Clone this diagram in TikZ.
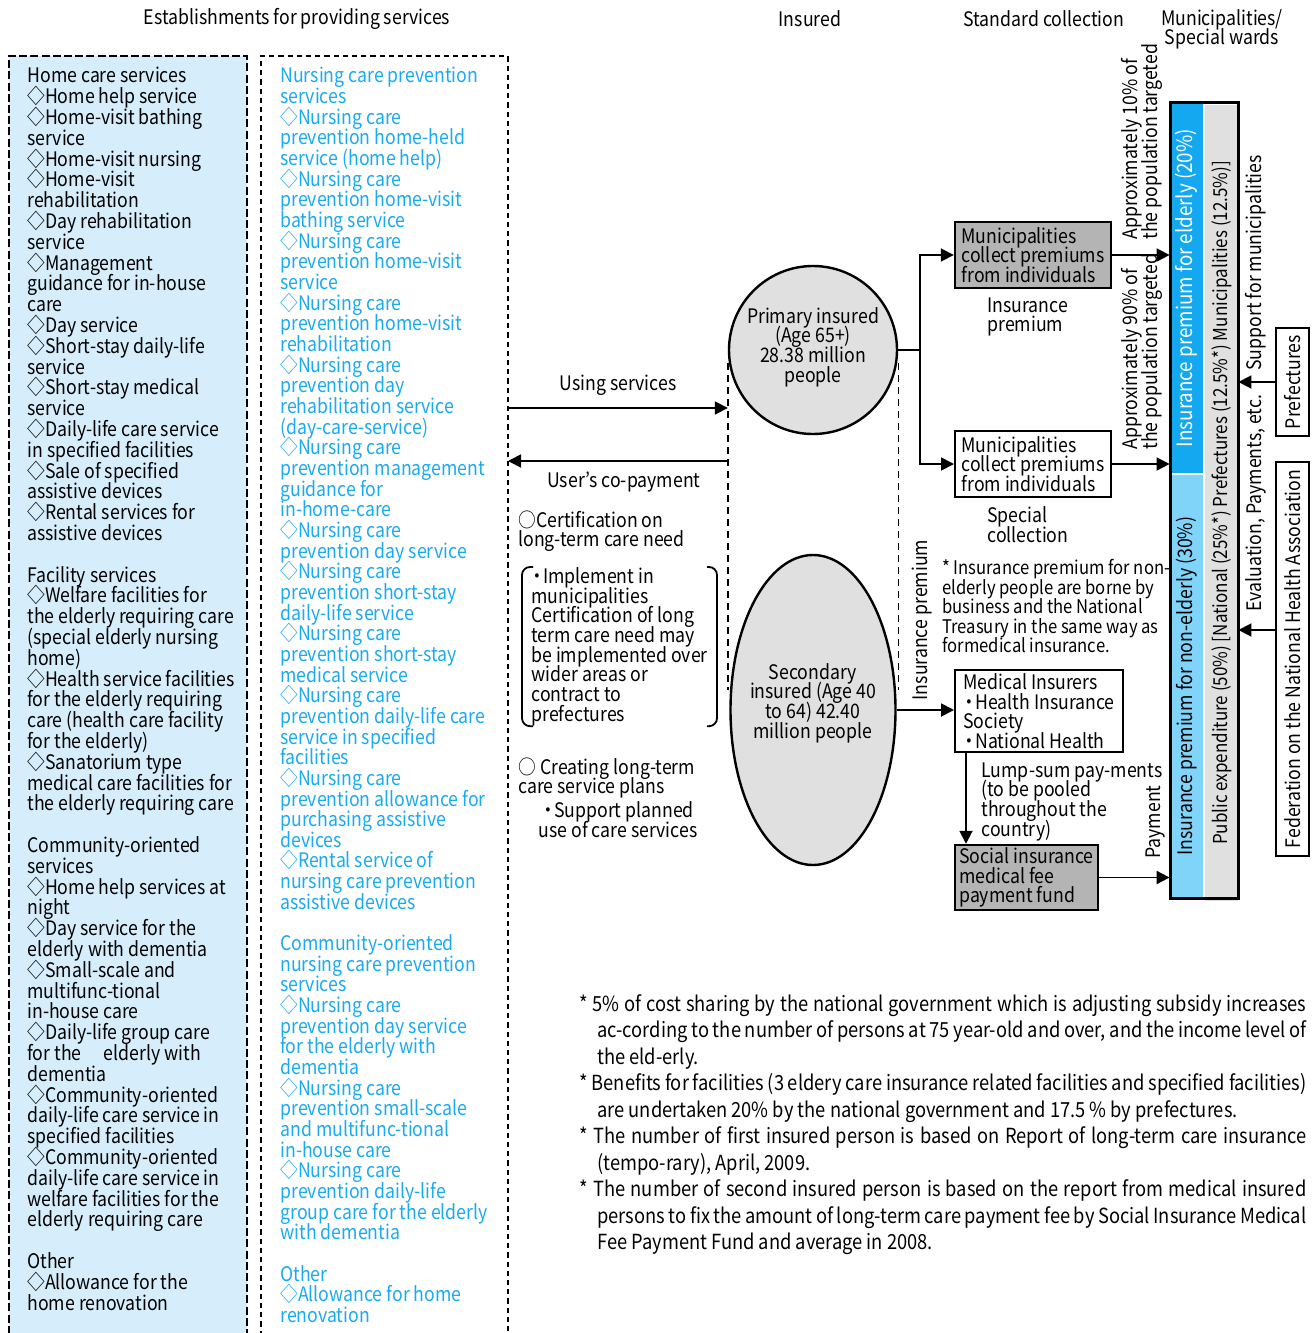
\documentclass[tikz,border=0pt]{standalone}
\usepackage{fontspec}
\setmainfont[FakeStretch=0.885]{Noto Sans CJK JP}
\newfontfamily\condfont[FakeStretch=0.88]{Noto Sans CJK JP}
\usetikzlibrary{shapes.geometric, arrows.meta, positioning, calc}

\definecolor{paleblue}{RGB}{214, 238, 252}
\definecolor{textblue}{RGB}{25, 170, 240}
\definecolor{barblue}{RGB}{20, 168, 240}
\definecolor{barlight}{RGB}{128, 212, 250}
\definecolor{bargray}{RGB}{224, 224, 224}
\definecolor{boxgray}{RGB}{180, 180, 180}
\definecolor{ovalgray}{RGB}{224, 224, 224}

\lineskiplimit=-100pt
\newcommand\bul{\makebox[6pt]{・}}
\newcommand\fullline[1]{\makebox[363.5pt][s]{#1}}
\newcommand\hangline[1]{\hspace*{9pt}\makebox[354.5pt][s]{#1}}
\newcommand\hanglast[1]{\hspace*{9pt}#1}

\begin{document}
\begin{tikzpicture}[x=0.5pt, y=-0.5pt,
  txt/.style={inner sep=0pt, font=\fontsize{10}{10.4}\selectfont},
  txtb/.style={inner sep=0pt, align=left, font=\fontsize{10}{9.85}\selectfont},
  arr/.style={line width=0.9pt, -{Triangle[length=6.5pt, width=6.5pt]}},
  plain/.style={line width=0.9pt},
  tiedash/.style={line width=0.7pt, dash pattern=on 3.5pt off 2.5pt},
  collbox/.style={draw, line width=1pt, align=left, minimum width=78pt, inner sep=0pt,
    minimum height=33pt, font=\fontsize{10}{9.75}\selectfont},
  vbar/.style={rotate=90, inner sep=0pt, minimum height=16.5pt, font=\fontsize{10}{10}\selectfont},
  vbox/.style={draw, line width=1pt, rotate=90, inner sep=0pt, minimum height=16.5pt,
    fill=white, font=\fontsize{10}{10}\selectfont},
  sidetext/.style={rotate=90, inner sep=0pt, font=\fontsize{10}{10}\selectfont}]
  \useasboundingbox (0,0) rectangle (1316,1333);

  % headings
  \node[txt] (hdsvc) at (297,19) {Establishments for providing services};
  \node[txt] (hdins) at (810,19) {Insured};
  \node[txt] (hdcol) at (1044,19) {Standard collection};
  \node[txt, align=center, font=\fontsize{10}{9.5}\selectfont] (hdmun) at (1222,29) {Municipalities/\\Special wards};

  % service columns
  \fill[paleblue] (9,56) rectangle (247,1345);
  \draw[line width=1.3pt, dash pattern=on 4pt off 1.6pt] (9,1345) -- (9,56) -- (247,56) -- (247,1345);
  \draw[line width=1pt, dash pattern=on 2.6pt off 2pt] (261,1345) -- (261,56) -- (508,56) -- (508,1345);

  \node[txt, anchor=north west, align=left] (homesvc) at (27,67) {Home care services\\
    ◇Home help service\\◇Home-visit bathing\\service\\◇Home-visit nursing\\◇Home-visit\\rehabilitation\\
    ◇Day rehabilitation\\service\\◇Management\\guidance for in-house\\care\\◇Day service\\
    ◇Short-stay daily-life\\service\\◇Short-stay medical\\service\\◇Daily-life care service\\
    in specified facilities\\◇Sale of specified\\assistive devices\\◇Rental services for\\
    assistive devices\\[10.4pt]
    Facility services\\◇Welfare facilities for\\the elderly requiring care\\(special elderly nursing\\
    home)\\◇Health service facilities\\for the elderly requiring\\care (health care facility\\
    for the elderly)\\◇Sanatorium type\\medical care facilities for\\the elderly requiring care\\[10.4pt]
    Community-oriented\\services\\◇Home help services at\\night\\◇Day service for the\\
    elderly with dementia\\◇Small-scale and\\multifunc-tional\\in-house care\\
    ◇Daily-life group care\\for the \hspace{7pt} elderly with\\dementia\\◇Community-oriented\\
    daily-life care service in\\specified facilities\\◇Community-oriented\\
    daily-life care service in\\welfare facilities for the\\elderly requiring care\\[10.4pt]
    Other\\◇Allowance for the\\home renovation};

  \node[txt, anchor=north west, align=left, text=textblue, font=\fontsize{10}{10.33}\selectfont] (prevsvc) at (280,67) {Nursing care prevention\\
    services\\◇Nursing care\\prevention home-held\\service (home help)\\◇Nursing care\\
    prevention home-visit\\bathing service\\◇Nursing care\\prevention home-visit\\service\\
    ◇Nursing care\\prevention home-visit\\rehabilitation\\◇Nursing care\\prevention day\\
    rehabilitation service\\(day-care-service)\\◇Nursing care\\prevention management\\
    guidance for\\in-home-care\\◇Nursing care\\prevention day service\\◇Nursing care\\
    prevention short-stay\\daily-life service\\◇Nursing care\\prevention short-stay\\
    medical service\\◇Nursing care\\prevention daily-life care\\service in specified\\facilities\\
    ◇Nursing care\\prevention allowance for\\purchasing assistive\\devices\\◇Rental service of\\
    nursing care prevention\\assistive devices\\[10.33pt]
    Community-oriented\\nursing care prevention\\services\\◇Nursing care\\
    prevention day service\\for the elderly with\\dementia\\◇Nursing care\\
    prevention small-scale\\and multifunc-tional\\in-house care\\◇Nursing care\\
    prevention daily-life\\group care for the elderly\\with dementia\\[10.33pt]
    Other\\◇Allowance for home\\renovation};

  % insured
  \node[circle, draw, line width=1.2pt, fill=ovalgray, minimum size=84pt, inner sep=0pt] (prim) at (813,350) {};
  \node[txtb, align=center] (primlbl) at (813,347) {Primary insured\\(Age 65+)\\28.38 million\\people};
  \node[ellipse, draw, line width=1.2pt, fill=ovalgray, minimum width=82.5pt, minimum height=155pt,
    inner sep=0pt] (sec) at (813,710) {};
  \node[txtb, align=center] (seclbl) at (813,703) {Secondary\\insured (Age 40\\to 64) 42.40\\million people};
  \draw[tiedash] ([yshift=-6.5pt]prim.west) -- ([yshift=10pt]prim.west |- sec.west);
  \draw[tiedash] ([yshift=-6.5pt]prim.east) -- ([yshift=10pt]prim.east |- sec.east);

  % use of services
  \coordinate (useL) at (508,408);
  \draw[arr] (useL) -- (useL -| prim.west) node[txt, midway, above=6pt] (uselbl) {Using services};
  \draw[arr] (prim.west |- 0,461) -- (useL |- 0,461) node[txt, midway, below=5pt, xshift=3pt] (copaylbl) {User's co-payment};

  \node[txtb, anchor=north west] (certon) at (518,510) {○Certification on\\long-term care need};
  \node[txtb, anchor=north west] (certnote) at (531,567) {\bul Implement in\\municipalities\\
    Certification of long\\term care need may\\be implemented over\\wider areas or\\contract to\\prefectures};
  \draw[plain, rounded corners=4pt] ([xshift=1pt]certnote.north west) -- ([xshift=-4.5pt]certnote.north west)
    -- ([xshift=-4.5pt]certnote.south west) -- ([xshift=1pt]certnote.south west);
  \draw[plain, rounded corners=4pt] ([xshift=88pt]certnote.north west) -- ([xshift=93pt]certnote.north west)
    -- ([xshift=93pt]certnote.south west) -- ([xshift=88pt]certnote.south west);
  \node[txtb, anchor=north west] (plans) at (518,757) {○ Creating long-term\\care service plans};
  \node[txtb, align=center, anchor=north] (support) at (618,801) {\bul Support planned\\use of care services};

  % standard collection
  \coordinate (split) at (prim.east -| 920,0);
  \node[collbox, fill=boxgray, line width=1.2pt] (mcol1) at (1033,255) {Municipalities\\collect premiums\\from individuals};
  \node[collbox, fill=white] (mcol2) at (1033,464) {Municipalities\\collect premiums\\from individuals};
  \node[txtb, anchor=north west] (premlbl) at (987,297) {Insurance\\premium};
  \node[txtb, anchor=north west] (speclbl) at (987,506) {Special\\collection};
  \node[txtb, anchor=north west, font=\fontsize{9.4}{9.75}\selectfont] (nonote) at (942,559)
    {* Insurance premium for non-\\elderly people are borne by\\business and the National\\
    Treasury in the same way as\\formedical insurance.};
  \node[draw, line width=1pt, fill=white, align=left, minimum width=84pt, inner sep=0pt, minimum height=41pt,
    font=\fontsize{10}{9.75}\selectfont] (medins) at (1039,711)
    {Medical Insurers\\\bul Health Insurance\\Society\\\bul National Health};
  \node[draw, line width=1.2pt, fill=boxgray, align=left, minimum width=71.5pt, inner sep=0pt, minimum height=32.5pt,
    font=\fontsize{10}{9.75}\selectfont] (socfund) at (1026.5,877.5)
    {Social insurance\\medical fee\\payment fund};
  \node[txtb, anchor=north west] (lumplbl) at (981,762) {Lump-sum pay-ments\\(to be pooled\\throughout the\\country)};
  \node[sidetext] (premvert) at (922,620) {Insurance premium};
  \node[sidetext] (paylbl) at (1155,822) {Payment};

  % municipalities / special wards
  \node[vbar, fill=barblue, text=white, minimum width=186pt, font=\fontsize{10.6}{10}\selectfont] (eld) at (1186.5,288)
    {Insurance premium for elderly (20\%)};
  \node[vbar, fill=barlight, minimum width=212pt] (nonel) at (1186.5,686)
    {Insurance premium for non-elderly (30\%)};
  \node[vbar, fill=bargray, minimum width=398pt, font=\fontsize{9.6}{10}\selectfont] (pub) at (1221.5,503)
    {Public expenditure (50\%) [National (25\%*) Prefectures (12.5\%*) Municipalities (12.5\%)]};
  \draw[white, line width=0.6pt] (1170,474) -- (1203,474);
  \draw[line width=1.5pt] (1170,102) rectangle (1238,898);
  \node[sidetext, align=left, anchor=west] (pct10) at (1142,240) {Approximately 10\% of\\the population targeted};
  \node[sidetext, align=left, anchor=west] (pct90) at (1142,450) {Approximately 90\% of\\the population targeted};
  \node[sidetext] (supmun) at (1256,263) {Support for municipalities};
  \node[sidetext] (evalpay) at (1256,503) {Evaluation, Payments, etc.};
  \node[vbox, minimum width=54pt] (pref) at (1292.5,382) {Prefectures};
  \node[vbox, minimum width=197pt] (fed) at (1292.5,659) {Federation on the National Health Association};

  % flows
  \draw[plain] (prim.east) -- (split);
  \draw[arr] (split) |- (mcol1.west);
  \draw[arr] (split) |- (mcol2.west);
  \draw[arr] (mcol1.east) -- (mcol1.east -| eld.north);
  \draw[arr] (mcol2.east) -- (mcol2.east -| eld.north);
  \draw[arr] (sec.east) -- (sec.east -| medins.west);
  \draw[arr] ([xshift=6pt]medins.south west) -- ([xshift=6pt]medins.south west |- socfund.north);
  \draw[arr] (socfund.east) -- (socfund.east -| nonel.north);
  \draw[arr] (pref.north) -- (pref.north -| pub.south);
  \draw[arr] (fed.north |- 0,630) -- (pub.south |- 0,630);

  % footnotes
  \node[anchor=north west, inner sep=0pt, align=left, font=\condfont\fontsize{10.4}{13.25}\selectfont] (notes) at (579,994)
    {\fullline{* 5\% of cost sharing by the national government which is adjusting subsidy increases}\\
    \hangline{ac-cording to the number of persons at 75 year-old and over, and the income level of}\\
    \hanglast{the eld-erly.}\\
    \fullline{* Benefits for facilities (3 eldery care insurance related facilities and specified facilities)}\\
    \hanglast{are undertaken 20\% by the national government and 17.5 \% by prefectures.}\\
    \fullline{* The number of first insured person is based on Report of long-term care insurance}\\
    \hanglast{(tempo-rary), April, 2009.}\\
    \fullline{* The number of second insured person is based on the report from medical insured}\\
    \hangline{persons to fix the amount of long-term care payment fee by Social Insurance Medical}\\
    \hanglast{Fee Payment Fund and average in 2008.}};
\end{tikzpicture}
\end{document}
